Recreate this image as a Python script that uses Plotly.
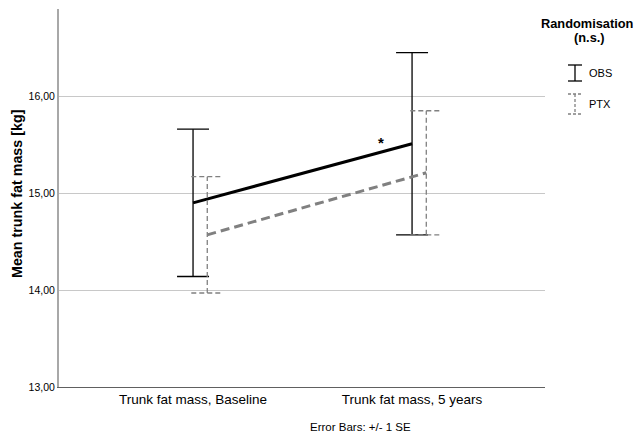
import plotly.graph_objects as go

categories = ["Trunk fat mass, Baseline", "Trunk fat mass, 5 years"]
groups = ["OBS", "PTX"]
obs_mean = [14.90, 15.51]
obs_se = [0.76, 0.94]
ptx_mean = [14.57, 15.21]
ptx_se = [0.60, 0.64]
y_ticks = [13, 14, 15, 16]
y_tick_labels = ["13,00", "14,00", "15,00", "16,00"]

PAGE_OFF = 8  # default body margin of the page
W, H = 644 - PAGE_OFF, 437 - PAGE_OFF
L, T = 59 - PAGE_OFF, 9 - PAGE_OFF
R = W - (545 - PAGE_OFF)
B = H - (387 - PAGE_OFF)
PW, PH = W - L - R, H - T - B

def px(x):
    return (x - PAGE_OFF - L) / PW

def py(y):
    return (H - B - (y - PAGE_OFF)) / PH

cap = 0.073
series = [
    ("OBS", obs_mean, obs_se, 0.0, "#000000", "solid", 3),
    ("PTX", ptx_mean, ptx_se, 0.065, "#808080", "dash", 3),
]

fig = go.Figure()
for name, means, ses, off, color, dash, w in series:
    xs = [i + off for i in range(len(categories))]
    ex, ey = [], []
    for x, m, s in zip(xs, means, ses):
        ex += [x, x, None, x - cap, x + cap, None, x - cap, x + cap, None]
        ey += [m - s, m + s, None, m + s, m + s, None, m - s, m - s, None]
    fig.add_trace(go.Scatter(x=ex, y=ey, mode="lines", showlegend=False,
                             line=dict(color=color, width=1.3, dash="5px,3px" if dash == "dash" else "solid"),
                             hoverinfo="skip"))
    fig.add_trace(go.Scatter(x=xs, y=means, mode="lines", name=name, showlegend=False,
                             line=dict(color=color, width=w, dash="9px,5px" if dash == "dash" else "solid")))

fig.add_annotation(x=0.857, y=15.41, text="<b>*</b>", showarrow=False,
                   xanchor="center", yanchor="bottom",
                   font=dict(size=15, color="#000"), xref="x", yref="y")

def note(x, y, text, size, xanchor="center", angle=0):
    fig.add_annotation(x=px(x), y=py(y), xref="paper", yref="paper", text=text,
                       showarrow=False, xanchor=xanchor, yanchor="middle",
                       textangle=angle, font=dict(size=size, color="#000"))

# Legend (custom)
note(587, 23, "<b>Randomisation</b>", 12.8)
note(589, 37, "<b>(n.s.)</b>", 12.8)
leg = [("OBS", 73, "#000000", "solid"), ("PTX", 104, "#808080", "dash")]
for name, yc, color, dash in leg:
    x0 = 575
    hh = 8 if dash == "solid" else 10
    for (xa, ya, xb, yb) in [(x0, yc - hh, x0, yc + hh), (x0 - 7, yc - hh, x0 + 7, yc - hh), (x0 - 7, yc + hh, x0 + 7, yc + hh)]:
        fig.add_shape(type="line", xref="paper", yref="paper",
                      x0=px(xa), y0=py(ya), x1=px(xb), y1=py(yb),
                      line=dict(color=color, width=1.3, dash="3px,2px" if dash == "dash" else "solid"))
    note(587, yc, name, 11, xanchor="left")

note(360, 427, "Error Bars: +/- 1 SE", 11.5)
note(17, 194, "<b>Mean trunk fat mass [kg]</b>", 14.3, angle=-90)

fig.update_layout(
    width=W, height=H, margin=dict(l=L, r=R, t=T, b=B, autoexpand=False),
    paper_bgcolor="white", plot_bgcolor="white",
    font=dict(family="Liberation Sans, Arial, sans-serif", color="#000"),
    showlegend=False,
)
fig.update_xaxes(range=[-0.612, 1.607], tickvals=[0, 1], ticktext=categories,
                 showgrid=False, zeroline=False, showline=True, linecolor="#606060", linewidth=1,
                 tickfont=dict(size=13.5, color="#000"), ticks="", ticklen=0, automargin=False)
fig.update_yaxes(range=[13, 16.9], tickvals=y_ticks, ticktext=y_tick_labels,
                 showgrid=True, gridcolor="#c8c8c8", gridwidth=1, zeroline=False,
                 showline=True, linecolor="#a8a8a8", linewidth=2,
                 tickfont=dict(size=10.5, color="#000"), automargin=False)

fig.write_html("out.html")
